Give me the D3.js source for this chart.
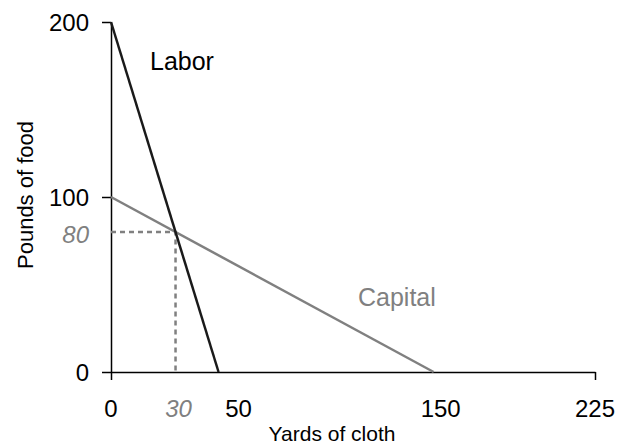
<!DOCTYPE html>
<html>
<head>
<meta charset="utf-8">
<script src="https://cdn.jsdelivr.net/npm/d3@7"></script>
<style>
  body { margin: 0; background: #fff; }
  text { font-family: "Liberation Sans", Arial, sans-serif; }
</style>
</head>
<body>
<script>
var width = 619,
    height = 447;

// data
var laborLine = [[0, 200], [50, 0]];
var capitalLine = [[0, 100], [150, 0]];
var crossPoint = [30, 80];
var xTickLabels = [0, 50, 150, 225];
var yTickLabels = [0, 100, 200];
var xAxisTicks = [0, 225];

var x = d3.scaleLinear().domain([0, 225]).range([111, 595]),
    y = d3.scaleLinear().domain([0, 200]).range([372, 22]);

// labels in the original sit a bit right of their value
var labelShift = function(d) {
  if (d == 50) return 20;
  if (d == 150) return 7;
  return 0;
};

var svg = d3.select("body").append("svg")
    .attr("width", width)
    .attr("height", height);

// axes
svg.append("g")
    .attr("transform", "translate(111,0)")
    .call(d3.axisLeft(y).tickValues(yTickLabels).tickSize(9).tickSizeOuter(0).tickFormat(""))
    .call(function(g) {
      g.selectAll("path, line").attr("stroke", "#000").attr("stroke-width", 1.5);
    });

svg.append("g")
    .attr("transform", "translate(0,372)")
    .call(d3.axisBottom(x).tickValues(xAxisTicks).tickSize(8).tickSizeOuter(0).tickFormat(""))
    .call(function(g) {
      g.selectAll("path, line").attr("stroke", "#000").attr("stroke-width", 1.5);
    });

// tick labels
svg.selectAll(".ylab")
    .data(yTickLabels)
  .enter().append("text")
    .attr("class", "ylab")
    .attr("x", 89)
    .attr("y", function(d) { return y(d); })
    .attr("dy", "0.36em")
    .attr("text-anchor", "end")
    .style("font-size", "24px")
    .text(function(d) { return d; });

svg.selectAll(".xlab")
    .data(xTickLabels)
  .enter().append("text")
    .attr("class", "xlab")
    .attr("x", function(d) { return x(d) + labelShift(d); })
    .attr("y", 417)
    .attr("text-anchor", "middle")
    .style("font-size", "24px")
    .text(function(d) { return d; });

// dashed guide to the crossing point
svg.append("path")
    .attr("d", d3.line()([[x(0), y(crossPoint[1])], [x(crossPoint[0]), y(crossPoint[1])], [x(crossPoint[0]), y(0)]]))
    .attr("fill", "none")
    .attr("stroke", "#808080")
    .attr("stroke-width", 2.5)
    .attr("stroke-dasharray", "5,4");

svg.append("text")
    .attr("x", 89)
    .attr("y", y(crossPoint[1]) + 2)
    .attr("dy", "0.36em")
    .attr("text-anchor", "end")
    .attr("fill", "#808080")
    .style("font-size", "24px")
    .style("font-style", "italic")
    .text(crossPoint[1]);

svg.append("text")
    .attr("x", x(crossPoint[0]) + 3)
    .attr("y", 417)
    .attr("text-anchor", "middle")
    .attr("fill", "#808080")
    .style("font-size", "24px")
    .style("font-style", "italic")
    .text(crossPoint[0]);

// lines
var line = d3.line()
    .x(function(d) { return x(d[0]); })
    .y(function(d) { return y(d[1]); });

svg.append("path")
    .attr("d", line(capitalLine))
    .attr("fill", "none")
    .attr("stroke", "#808080")
    .attr("stroke-width", 2.5);

svg.append("path")
    .attr("d", line(laborLine))
    .attr("fill", "none")
    .attr("stroke", "#1a1a1a")
    .attr("stroke-width", 2.5);

svg.append("text")
    .attr("x", 150)
    .attr("y", 70)
    .style("font-size", "25px")
    .text("Labor");

svg.append("text")
    .attr("x", 358)
    .attr("y", 306)
    .attr("fill", "#808080")
    .style("font-size", "25px")
    .text("Capital");

// axis titles
svg.append("text")
    .attr("x", 332)
    .attr("y", 441)
    .attr("text-anchor", "middle")
    .style("font-size", "21px")
    .text("Yards of cloth");

svg.append("text")
    .attr("transform", "translate(33,195) rotate(-90)")
    .attr("text-anchor", "middle")
    .style("font-size", "22px")
    .text("Pounds of food");
</script>
</body>
</html>
